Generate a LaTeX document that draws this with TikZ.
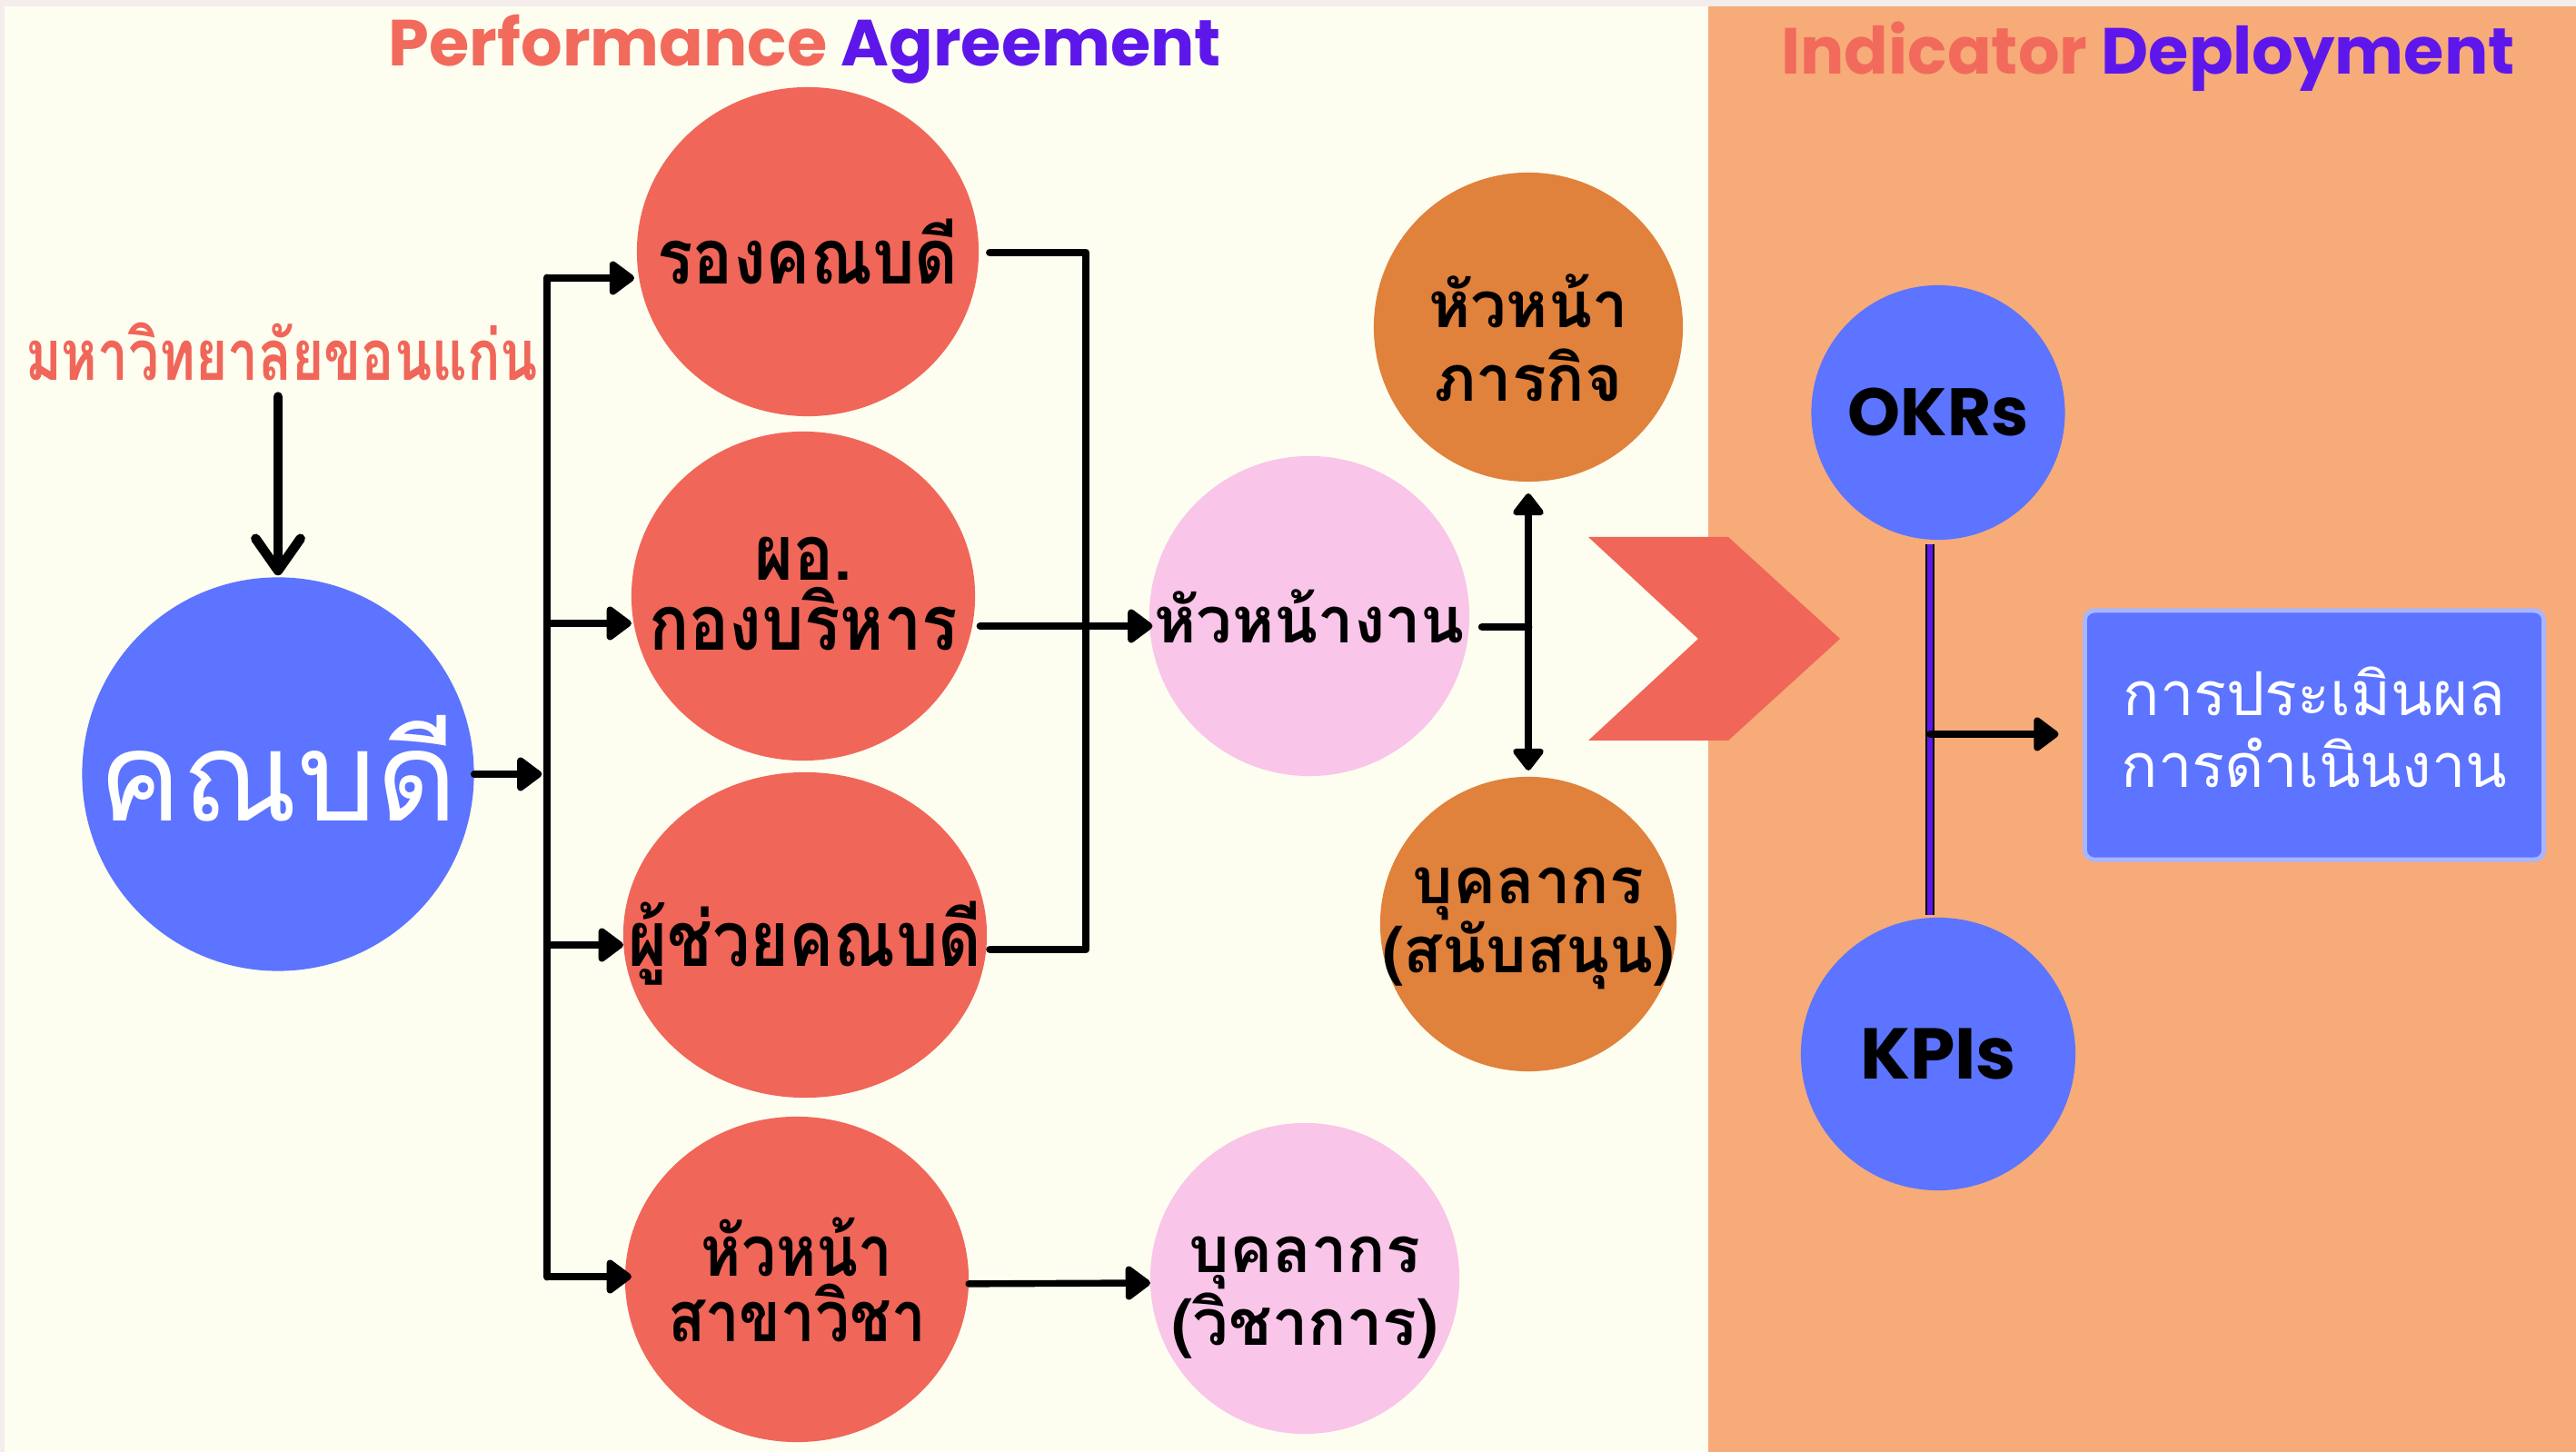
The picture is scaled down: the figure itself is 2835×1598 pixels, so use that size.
\documentclass[tikz,border=0pt]{standalone}
\usepackage{fontspec}
\usetikzlibrary{shapes.geometric,arrows.meta}
\newfontfamily\thaifont[Script=Thai]{Loma}
\newfontfamily\thainarrow[Script=Thai,FakeStretch=0.87]{Loma}
\newfontfamily\thaicond[Script=Thai,FakeStretch=0.78]{Loma}
\newfontfamily\titlefont{Poppins}
\definecolor{edgec}{HTML}{F4EDEC}
\definecolor{cream}{HTML}{FDFEF0}
\definecolor{orangebg}{HTML}{F6AB78}
\definecolor{coral}{HTML}{F06659}
\definecolor{bluec}{HTML}{5C74FF}
\definecolor{pinkc}{HTML}{F9C5E9}
\definecolor{orangec}{HTML}{E0813C}
\definecolor{purp}{HTML}{5E17EB}
\definecolor{tcoral}{HTML}{F26A5C}
\definecolor{boxborder}{HTML}{A9B6FF}
\begin{document}
\begin{tikzpicture}[x=0.01cm,y=-0.01cm,
  circ/.style={ellipse, inner sep=0pt, outer sep=0pt},
  ctext/.style={inner sep=0pt, align=center, font=\thainarrow\bfseries\fontsize{24}{22}\selectfont},
  otext/.style={inner sep=0pt, align=center, font=\thaifont\bfseries\fontsize{20}{23}\selectfont},
  line/.style={line width=2.5pt, line cap=round, line join=round},
  arr/.style={line width=2.1pt, line cap=round, line join=round, -{Triangle[length=8.5pt,width=12pt,round]}},
  dbl/.style={line width=2.3pt, line cap=round, line join=round, {Triangle[length=7.5pt,width=11pt,round]}-{Triangle[length=7.5pt,width=11pt,round]}},
  barb/.style={line width=3pt, line cap=round, line join=round, -{Straight Barb[length=10pt,width=14pt,round]}},
  ttl/.style={anchor=base, inner sep=0pt, font=\titlefont\bfseries\fontsize{20.4}{24}\selectfont}]
\useasboundingbox (0,0) rectangle (2835,1598);
\fill[edgec] (0,0) rectangle (2835,1598);
\fill[cream] (5,7) rectangle (1880,1598);
\fill[orangebg] (1880,7) rectangle (2835,1598);

% titles
\node[ttl] (t1) at (886,73) {\textcolor{tcoral}{Performance} \textcolor{purp}{Agreement}};
\node[ttl] (t2) at (2364,82) {\textcolor{tcoral}{Indicator} \textcolor{purp}{Deployment}};

% chevron
\fill[coral] (1748,591) -- (1902,591) -- (2025,703) -- (1902,815) -- (1748,815) -- (1869,703) -- cycle;

% circles
\node[circ, fill=bluec, minimum width=4.31cm, minimum height=4.33cm] (dean) at (306,852) {};
\node[circ, fill=coral, minimum width=3.76cm, minimum height=3.62cm] (rong) at (889,277) {};
\node[circ, fill=coral, minimum width=3.78cm, minimum height=3.62cm] (po) at (884,656) {};
\node[circ, fill=coral, minimum width=4.00cm, minimum height=3.58cm] (chuay) at (886,1029) {};
\node[circ, fill=coral, minimum width=3.78cm, minimum height=3.58cm] (sakha) at (877,1408) {};
\node[circ, fill=pinkc, minimum width=3.52cm, minimum height=3.52cm] (head) at (1441,678) {};
\node[circ, fill=pinkc, minimum width=3.40cm, minimum height=3.42cm] (acad) at (1436,1407) {};
\node[circ, fill=orangec, minimum width=3.40cm, minimum height=3.40cm] (mis) at (1682,360) {};
\node[circ, fill=orangec, minimum width=3.26cm, minimum height=3.24cm] (staff) at (1682,1017) {};
\node[circ, fill=bluec, minimum width=2.79cm, minimum height=2.80cm] (okr) at (2133,454) {};
\node[circ, fill=bluec, minimum width=3.02cm, minimum height=3.00cm] (kpi) at (2133,1160) {};
\node[draw=boxborder, line width=1.4pt, fill=bluec, rounded corners=3pt, minimum width=5.05cm, minimum height=2.74cm, inner sep=0pt] (box) at (2547,809) {};

% texts
\node[inner sep=0pt, anchor=base, text=coral, font=\thaicond\bfseries\fontsize{22}{22}\selectfont] (uni) at (310,419) {มหาวิทยาลัยขอนแก่น};
\node[inner sep=0pt, anchor=base, text=white, font=\thaifont\fontsize{39}{39}\selectfont] (deanT) at (306,904) {คณบดี};
\node[ctext] (rongT) at (rong) {รองคณบดี};
\node[ctext] (poT) at ([yshift=0.8pt]po.center) {ผอ.\\กองบริหาร};
\node[ctext] (chuayT) at ([yshift=-2.5pt]chuay.center) {ผู้ช่วยคณบดี};
\node[ctext, font=\thainarrow\bfseries\fontsize{22}{20.5}\selectfont] (sakhaT) at (sakha) {หัวหน้า\\สาขาวิชา};
\node[otext] (headT) at (head) {หัวหน้างาน};
\node[otext] (acadT) at ([yshift=-6pt]acad.center) {บุคลากร\\(วิชาการ)};
\node[otext] (misT) at ([yshift=-3.4pt]mis.center) {หัวหน้า\\ภารกิจ};
\node[otext, font=\thaifont\bfseries\fontsize{20}{21.5}\selectfont] (staffT) at ([yshift=-1.4pt]staff.center) {บุคลากร\\(สนับสนุน)};
\node[inner sep=0pt, font=\titlefont\bfseries\fontsize{21}{24}\selectfont] (okrT) at (okr) {OKRs};
\node[inner sep=0pt, font=\titlefont\bfseries\fontsize{22.5}{24}\selectfont] (kpiT) at (kpi) {KPIs};
\node[inner sep=0pt, align=center, text=white, font=\thaifont\fontsize{19}{22.5}\selectfont] (boxT) at ([yshift=2.5pt]box.center) {การประเมินผล\\การดำเนินงาน};

% connectors
\coordinate (busT) at (602,306);
\coordinate (busB) at (602,1405);
\coordinate (busP) at (602,686);
\coordinate (busC) at (602,1040);
\coordinate (brkT) at (1195,278);
\coordinate (brkB) at (1195,1045);
\coordinate (midY) at (1195,689);
\coordinate (vj) at (1682,690);
\coordinate (okj) at (2124,808);

\draw[barb, shorten <=5pt, shorten >=0.6pt] (uni.base -| dean.north) -- (dean.north);
\draw[arr, shorten >=1.6pt] (dean.east) -- (dean.east -| busT);
\draw[line] (busT) -- (busB);
\draw[arr, shorten >=0.8pt] (busT) -- (busT -| rong.west);
\draw[arr] (busP) -- (busP -| po.west);
\draw[arr] (busC) -- (busC -| chuay.west);
\draw[arr] (busB) -- ([xshift=2pt]busB -| sakha.west);
\draw[line] ([xshift=3.5pt]rong.east |- brkT) -- (brkT) -- (brkB) -- ([xshift=1pt]chuay.east |- brkB);
\draw[arr] ([xshift=1.5pt]po.east |- midY) -- ([xshift=1pt]head.west |- midY);
\draw[arr] ([yshift=-1.4pt]sakha.east) -- ([yshift=-1.4pt]acad.west);
\draw[line] ([xshift=4pt]head.east |- vj) -- (vj);
\draw[dbl, shorten <=3.7pt, shorten >=2pt] (mis.south) -- (staff.north);
\draw[line width=0.5pt, double=purp, double distance=1.8pt] ([xshift=-2.6pt,yshift=-1.4pt]okr.south) -- ([xshift=-2.6pt,yshift=0.8pt]kpi.north);
\draw[arr, shorten >=7.5pt] (okj) -- (box.west |- okj);
\end{tikzpicture}
\end{document}
